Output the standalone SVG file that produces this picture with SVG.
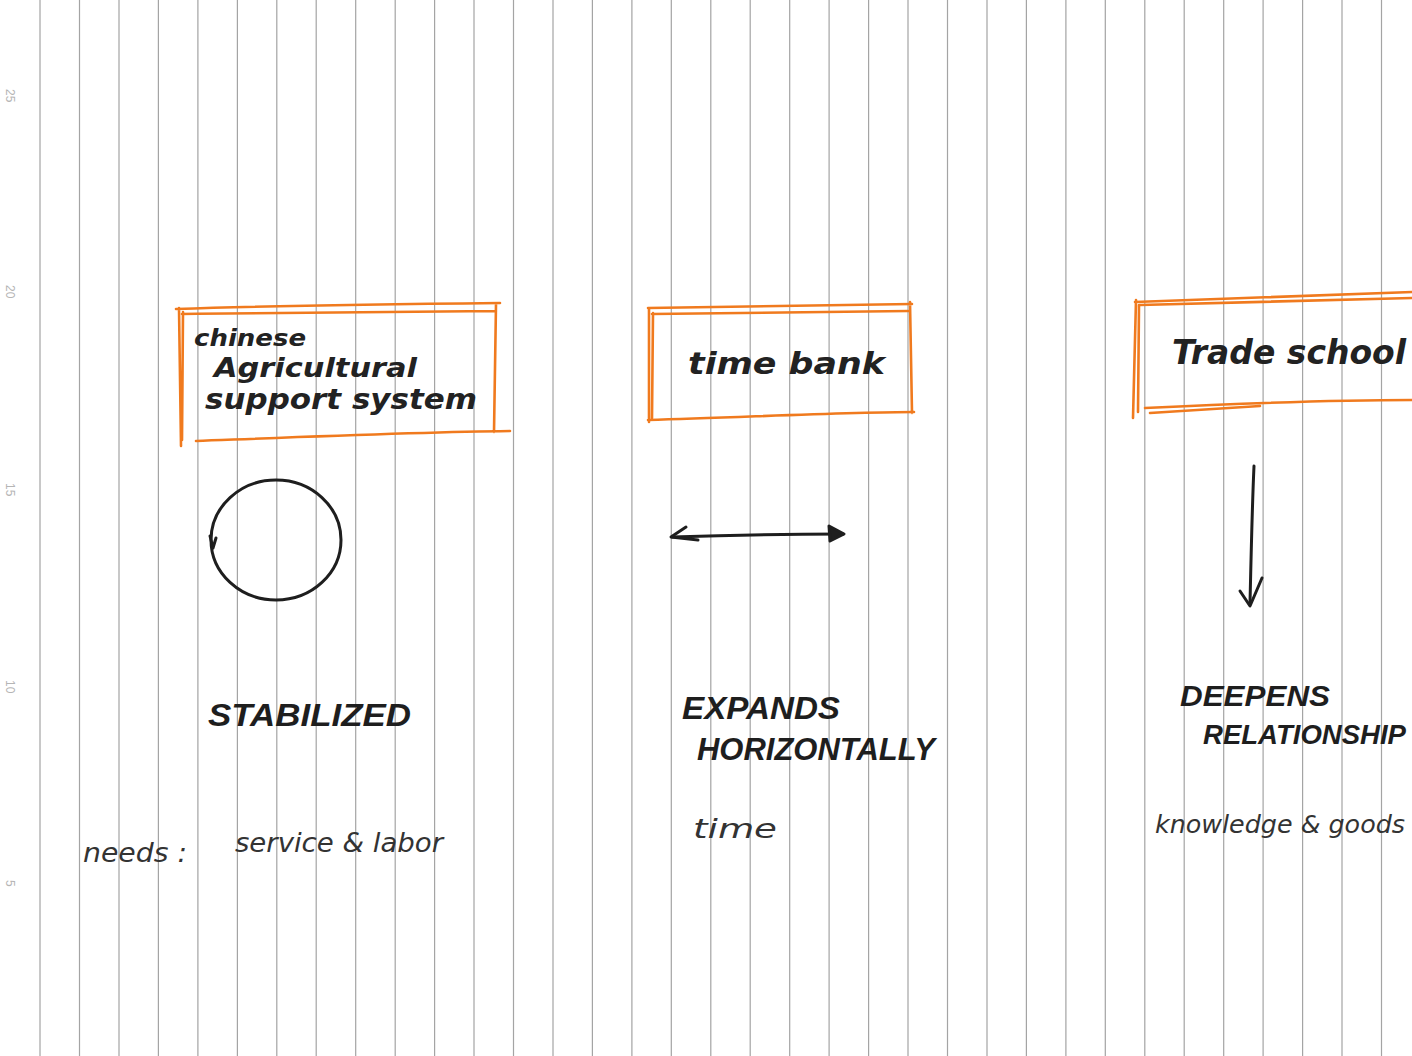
<svg xmlns="http://www.w3.org/2000/svg" width="1412" height="1056" viewBox="0 0 1412 1056">
<style>
.rule{stroke:#a4a4a4;stroke-width:1.2;fill:none}
.num{font-family:"Liberation Sans",Arial,sans-serif;font-size:12px;fill:#b5b5b5}
.box{stroke:#f07a1e;stroke-width:2.6;fill:none;stroke-linecap:round;stroke-linejoin:round}
.ink{stroke:#1e1e1e;stroke-width:3;fill:none;stroke-linecap:round;stroke-linejoin:round}
.script{font-family:"DejaVu Sans","Liberation Sans",sans-serif;font-style:italic;font-weight:bold;fill:#222}
.caps{font-family:"Liberation Sans",Arial,sans-serif;font-style:italic;font-weight:bold;fill:#1e1e1e}
.thin{font-family:"DejaVu Sans","Liberation Sans",sans-serif;font-style:italic;fill:#333}
</style>
<rect width="1412" height="1056" fill="#ffffff"/>
<g id="paper">
<g id="rules">
<path class="rule" d="M40,0V1056M79.5,0V1056M119,0V1056M158.4,0V1056M197.9,0V1056M237.4,0V1056M276.8,0V1056M316.2,0V1056M355.7,0V1056M395.2,0V1056M434.6,0V1056M474,0V1056M513.5,0V1056M553,0V1056M592.4,0V1056M631.9,0V1056M671.3,0V1056M710.8,0V1056M750.2,0V1056M789.7,0V1056M829.1,0V1056M868.6,0V1056M908,0V1056M947.5,0V1056M987,0V1056M1026.4,0V1056M1065.9,0V1056M1105.3,0V1056M1144.8,0V1056M1184.2,0V1056M1223.7,0V1056M1263.1,0V1056M1302.6,0V1056M1342,0V1056M1381.5,0V1056"/>
</g>
<g id="margin-numbers">
<text class="num" transform="translate(6,89) rotate(90)">25</text>
<text class="num" transform="translate(6,285) rotate(90)">20</text>
<text class="num" transform="translate(6,483) rotate(90)">15</text>
<text class="num" transform="translate(6,680) rotate(90)">10</text>
<text class="num" transform="translate(6,880) rotate(90)">5</text>
</g>
</g>
<g id="node-chinese">
<path class="box" d="M176,309 C260,306 400,304 500,303 M182,314 C300,312 420,311 496,311 M496,304 L494,432 M179,308 L181,446 M183,312 L182,440 M196,441 C300,437 420,432 510,431"/>
<text class="script" x="194" y="346" font-size="23" textLength="112" lengthAdjust="spacingAndGlyphs">chinese</text>
<text class="script" x="214" y="377" font-size="27" textLength="203" lengthAdjust="spacingAndGlyphs">Agricultural</text>
<text class="script" x="205" y="409" font-size="29" textLength="272" lengthAdjust="spacingAndGlyphs">support system</text>
</g>
<g id="node-timebank">
<path class="box" d="M648,308 L912,304 M652,314 L908,311 M649,308 L649,422 M653,313 L652,418 M910,302 L912,413 M648,420 C750,417 850,412 914,412"/>
<text class="script" x="688" y="374" font-size="31" textLength="197" lengthAdjust="spacingAndGlyphs">time bank</text>
</g>
<g id="node-trade">
<path class="box" d="M1135,302 C1250,298 1350,294 1412,292 M1140,305 L1412,298 M1136,300 L1133,418 M1139,305 L1138,412 M1145,408 C1250,403 1350,400 1412,400 M1150,413 L1260,406"/>
<text class="script" x="1172" y="364" font-size="33" textLength="234" lengthAdjust="spacingAndGlyphs">Trade school</text>
</g>
<g id="connectors">
<g id="cycle">
<ellipse class="ink" cx="276" cy="540" rx="65" ry="60" stroke-width="2.8"/>
<path class="ink" d="M210,536 L213,548 L216,538" stroke-width="2.6"/>
</g>
<g id="double-arrow">
<path class="ink" d="M672,537 C730,535 790,534 843,534" stroke-width="3.2"/>
<path class="ink" d="M686,527 L671,537 L698,540" stroke-width="3"/>
<path class="ink" d="M829,526 L844,534 L830,541 Z" style="fill:#1e1e1e" stroke-width="2.6"/>
</g>
<g id="down-arrow">
<path class="ink" d="M1254,466 C1252,510 1251,560 1250,604" stroke-width="3.2"/>
<path class="ink" d="M1240,591 L1250,606 L1262,578" stroke-width="3.2"/>
</g>
</g>
<g id="label-stabilized">
<text class="caps" x="208" y="726" font-size="31" textLength="203" lengthAdjust="spacingAndGlyphs">STABILIZED</text>
</g>
<g id="label-expands">
<text class="caps" x="682" y="719" font-size="31" textLength="158" lengthAdjust="spacingAndGlyphs">EXPANDS</text>
<text class="caps" x="697" y="760" font-size="31" textLength="238" lengthAdjust="spacingAndGlyphs">HORIZONTALLY</text>
</g>
<g id="label-deepens">
<text class="caps" x="1180" y="706" font-size="30" textLength="150" lengthAdjust="spacingAndGlyphs">DEEPENS</text>
<text class="caps" x="1203" y="744" font-size="28" textLength="203" lengthAdjust="spacingAndGlyphs">RELATIONSHIP</text>
</g>
<g id="needs">
<text class="thin" x="83" y="862" font-size="26" textLength="104" lengthAdjust="spacingAndGlyphs">needs :</text>
<text class="thin" x="235" y="852" font-size="26" textLength="208" lengthAdjust="spacingAndGlyphs">service &amp; labor</text>
<text class="thin" x="693" y="838" font-size="26" textLength="84" lengthAdjust="spacingAndGlyphs">time</text>
<text class="thin" x="1155" y="833" font-size="25" textLength="250" lengthAdjust="spacingAndGlyphs">knowledge &amp; goods</text>
</g>
</svg>
